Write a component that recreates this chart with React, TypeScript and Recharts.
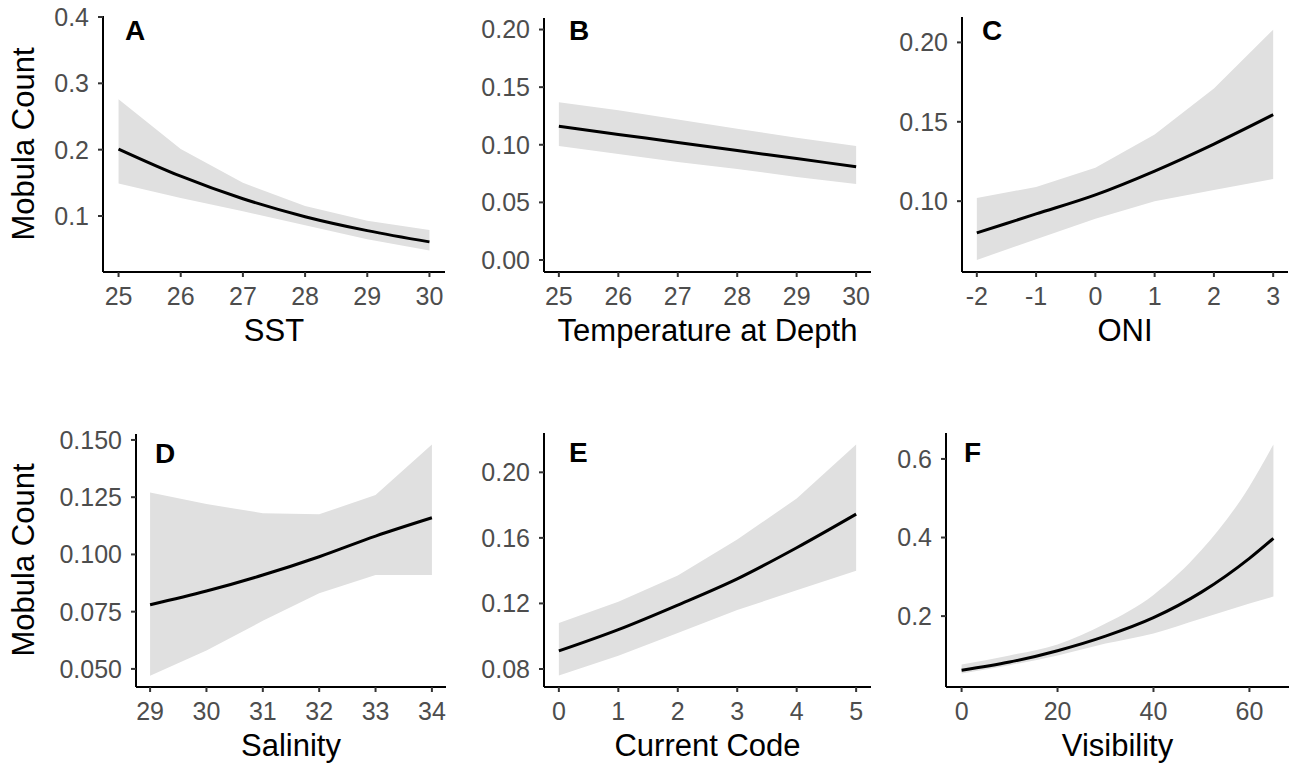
import React from "react";
import { ComposedChart, Area, Line, XAxis, YAxis } from "recharts";

const FONT = '"Liberation Sans", Arial, Helvetica, sans-serif';

// A - SST
const sstX = [25, 26, 27, 28, 29, 30];
const sstFit = [0.201, 0.16, 0.126, 0.099, 0.078, 0.061];
const sstLow = [0.149, 0.127, 0.107, 0.086, 0.065, 0.048];
const sstHigh = [0.276, 0.201, 0.15, 0.115, 0.093, 0.079];
const sstYTicks = [0.1, 0.2, 0.3, 0.4];

// B - Temperature at Depth
const tempX = [25, 26, 27, 28, 29, 30];
const tempFit = [0.116, 0.109, 0.102, 0.095, 0.088, 0.081];
const tempLow = [0.099, 0.092, 0.085, 0.079, 0.072, 0.066];
const tempHigh = [0.137, 0.13, 0.122, 0.114, 0.106, 0.099];
const tempYTicks = [0, 0.05, 0.1, 0.15, 0.2];

// C - ONI
const oniX = [-2, -1, 0, 1, 2, 3];
const oniFit = [0.08, 0.092, 0.104, 0.119, 0.136, 0.1545];
const oniLow = [0.063, 0.076, 0.089, 0.1, 0.107, 0.114];
const oniHigh = [0.102, 0.109, 0.121, 0.142, 0.171, 0.208];
const oniYTicks = [0.1, 0.15, 0.2];

// D - Salinity
const salX = [29, 30, 31, 32, 33, 34];
const salFit = [0.078, 0.084, 0.091, 0.099, 0.108, 0.116];
const salLow = [0.047, 0.058, 0.071, 0.083, 0.091, 0.091];
const salHigh = [0.127, 0.122, 0.118, 0.1175, 0.126, 0.148];
const salYTicks = [0.05, 0.075, 0.1, 0.125, 0.15];

// E - Current Code
const curX = [0, 1, 2, 3, 4, 5];
const curFit = [0.091, 0.104, 0.119, 0.135, 0.154, 0.1745];
const curLow = [0.076, 0.088, 0.102, 0.116, 0.128, 0.14];
const curHigh = [0.108, 0.121, 0.137, 0.159, 0.184, 0.217];
const curYTicks = [0.08, 0.12, 0.16, 0.2];

// F - Visibility
const visX = [0, 10, 20, 30, 40, 50, 60, 65];
const visFit = [0.062, 0.083, 0.112, 0.149, 0.196, 0.261, 0.347, 0.398];
const visLow = [0.054, 0.075, 0.1, 0.13, 0.156, 0.194, 0.232, 0.25];
const visHigh = [0.077, 0.1, 0.128, 0.181, 0.254, 0.368, 0.53, 0.637];
const visXTicks = [0, 20, 40, 60];
const visYTicks = [0.2, 0.4, 0.6];

const rows = (xs: number[], fit: number[], lo: number[], hi: number[]) =>
  xs.map((x, i) => ({ x, fit: fit[i], band: [lo[i], hi[i]] }));

const panels = [
  { key: "A", title: "SST", data: rows(sstX, sstFit, sstLow, sstHigh), xDomain: [24.75, 30.25], xTicks: sstX, yDomain: [0.0156, 0.4015], yTicks: sstYTicks, digits: 1, left: 103, right: 445, top: 16, bottom: 272, band: "linear" },
  { key: "B", title: "Temperature at Depth", data: rows(tempX, tempFit, tempLow, tempHigh), xDomain: [24.75, 30.25], xTicks: tempX, yDomain: [-0.0104, 0.21], yTicks: tempYTicks, digits: 2, left: 544, right: 871, top: 18, bottom: 272, band: "linear" },
  { key: "C", title: "ONI", data: rows(oniX, oniFit, oniLow, oniHigh), xDomain: [-2.25, 3.25], xTicks: oniX, yDomain: [0.0554, 0.216], yTicks: oniYTicks, digits: 2, left: 962, right: 1288, top: 17, bottom: 272, band: "linear" },
  { key: "D", title: "Salinity", data: rows(salX, salFit, salLow, salHigh), xDomain: [28.75, 34.25], xTicks: salX, yDomain: [0.0421, 0.1526], yTicks: salYTicks, digits: 3, left: 136, right: 446, top: 434, bottom: 687, band: "linear" },
  { key: "E", title: "Current Code", data: rows(curX, curFit, curLow, curHigh), xDomain: [-0.25, 5.25], xTicks: curX, yDomain: [0.069, 0.224], yTicks: curYTicks, digits: 2, left: 544, right: 871, top: 433, bottom: 687, band: "linear" },
  { key: "F", title: "Visibility", data: rows(visX, visFit, visLow, visHigh), xDomain: [-3.25, 68.25], xTicks: visXTicks, yDomain: [0.0196, 0.666], yTicks: visYTicks, digits: 1, left: 946, right: 1289, top: 433, bottom: 687, band: "monotone" },
];

const letterPos: Record<string, [number, number]> = {
  A: [125, 40], B: [569, 40], C: [982, 40], D: [155, 463], E: [569, 462], F: [964, 462],
};

const Y_AXIS_W = 100;
const X_AXIS_H = 40;
const PAD_TOP = 15;
const PAD_RIGHT = 20;

const tickText = { fill: "#4d4d4d", fontSize: 25, fontFamily: FONT };

const Panel = ({ p }: { p: any }) => {
  const width = Y_AXIS_W + (p.right - p.left) + PAD_RIGHT;
  const height = PAD_TOP + (p.bottom - p.top) + X_AXIS_H;
  return (
    <div style={{ position: "absolute", left: p.left - Y_AXIS_W, top: p.top - PAD_TOP }}>
      <ComposedChart width={width} height={height} data={p.data} margin={{ top: PAD_TOP, right: PAD_RIGHT, bottom: 0, left: 0 }}>
        <XAxis
          type="number"
          dataKey="x"
          domain={p.xDomain}
          ticks={p.xTicks}
          allowDataOverflow
          interval={0}
          height={X_AXIS_H}
          tickSize={5}
          tickMargin={10}
          axisLine={{ stroke: "#000", strokeWidth: 2 }}
          tickLine={{ stroke: "#333", strokeWidth: 2 }}
          tick={tickText}
        />
        <YAxis
          type="number"
          domain={p.yDomain}
          ticks={p.yTicks}
          allowDataOverflow
          interval={0}
          width={Y_AXIS_W}
          tickSize={5}
          tickMargin={9}
          tickFormatter={(v: number) => v.toFixed(p.digits)}
          axisLine={{ stroke: "#000", strokeWidth: 2 }}
          tickLine={{ stroke: "#333", strokeWidth: 2 }}
          tick={tickText}
        />
        <Area type={p.band} dataKey="band" stroke="none" fill="#e0e0e0" fillOpacity={1} isAnimationActive={false} activeDot={false} />
        <Line type="monotone" dataKey="fit" stroke="#000" strokeWidth={3} dot={false} activeDot={false} isAnimationActive={false} />
      </ComposedChart>
    </div>
  );
};

export default function App() {
  return (
    <div style={{ position: "absolute", left: 0, top: 0, width: 1291, height: 764, background: "#fff", fontFamily: FONT }}>
      {panels.map((p) => (
        <Panel key={p.key} p={p} />
      ))}
      <svg width={1291} height={764} style={{ position: "absolute", left: 0, top: 0, pointerEvents: "none" }}>
        {panels.map((p) => (
          <g key={p.key}>
            <text x={letterPos[p.key][0]} y={letterPos[p.key][1]} fontSize={28} fontWeight="bold" fontFamily={FONT} fill="#000">
              {p.key}
            </text>
            <text x={(p.left + p.right) / 2} y={p.bottom + 69} fontSize={31} fontFamily={FONT} fill="#000" textAnchor="middle">
              {p.title}
            </text>
          </g>
        ))}
        <text transform="translate(34,144) rotate(-90)" fontSize={31} fontFamily={FONT} fill="#000" textAnchor="middle">
          Mobula Count
        </text>
        <text transform="translate(34,560) rotate(-90)" fontSize={31} fontFamily={FONT} fill="#000" textAnchor="middle">
          Mobula Count
        </text>
      </svg>
    </div>
  );
}
